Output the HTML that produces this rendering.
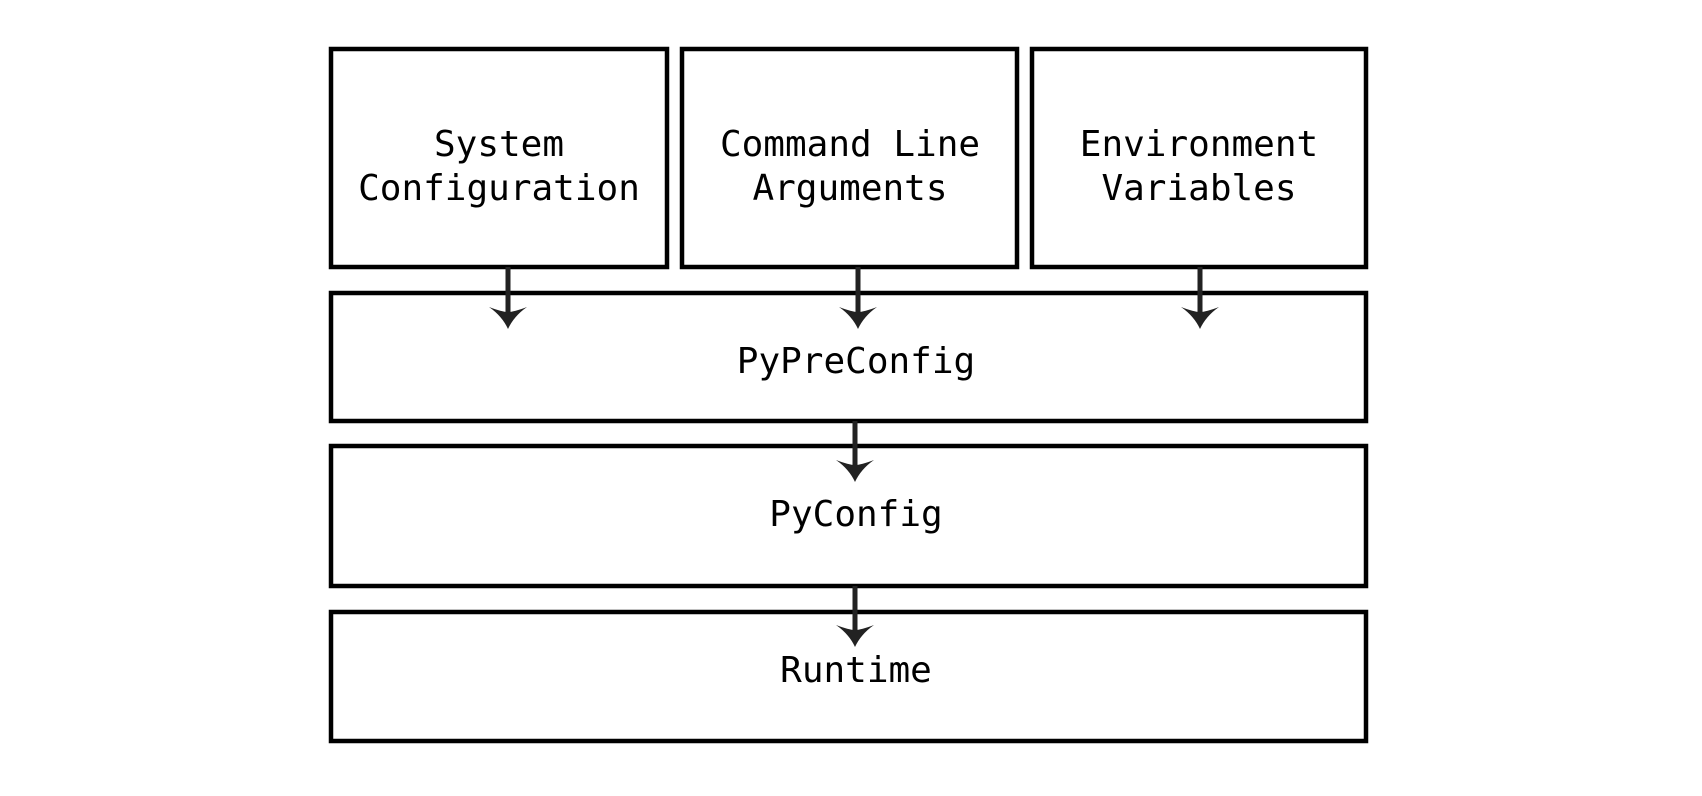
<!DOCTYPE html>
<html><head><meta charset="utf-8"><style>
html,body{margin:0;padding:0;background:#fff;}
svg{display:block;}
text{font-family:"DejaVu Sans Mono","Liberation Mono",monospace;font-size:36px;fill:#000;text-anchor:middle;}
</style></head><body>
<svg width="1702" height="796" viewBox="0 0 1702 796">
<defs>
<g id="ah"><path d="M-19,-22 Q-6,-13 0,0 Q6,-13 19,-22 Q6,-17 0,-17 Q-6,-17 -19,-22 Z" fill="#222"/></g>
</defs>
<g fill="none" stroke="#000" stroke-width="4.5">
<rect x="331" y="49" width="336" height="218"/>
<rect x="682" y="49" width="335" height="218"/>
<rect x="1032" y="49" width="334" height="218"/>
<rect x="331" y="293" width="1035" height="128"/>
<rect x="331" y="446" width="1035" height="140"/>
<rect x="331" y="612" width="1035" height="129"/>
</g>
<g stroke="#222" stroke-width="5">
<line x1="508" y1="267" x2="508" y2="315"/>
<line x1="858" y1="267" x2="858" y2="315"/>
<line x1="1200" y1="267" x2="1200" y2="315"/>
<line x1="855" y1="421" x2="855" y2="468"/>
<line x1="855" y1="586" x2="855" y2="634"/>
</g>
<use href="#ah" transform="translate(508,329)"/>
<use href="#ah" transform="translate(858,329)"/>
<use href="#ah" transform="translate(1200,329)"/>
<use href="#ah" transform="translate(855,482)"/>
<use href="#ah" transform="translate(855,647)"/>
<text x="499" y="156">System</text>
<text x="499" y="200">Configuration</text>
<text x="850" y="156">Command Line</text>
<text x="850" y="200">Arguments</text>
<text x="1199" y="156">Environment</text>
<text x="1199" y="200">Variables</text>
<text x="856" y="373">PyPreConfig</text>
<text x="856" y="526">PyConfig</text>
<text x="856" y="682">Runtime</text>
</svg>
</body></html>
